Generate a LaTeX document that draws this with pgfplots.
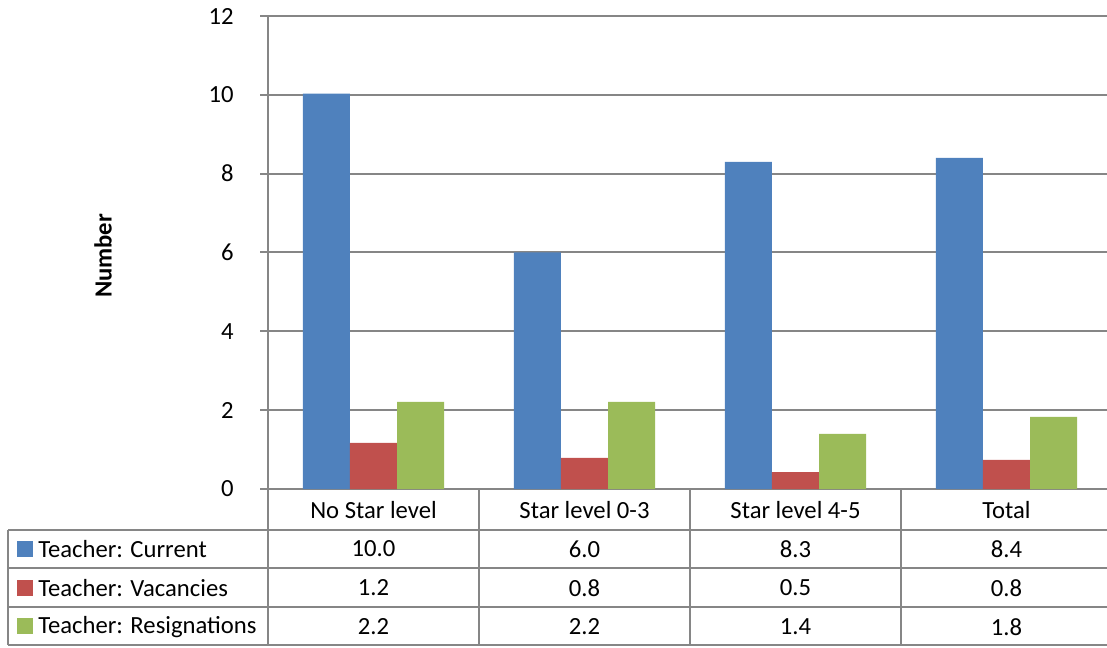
\documentclass[border=0pt]{standalone}
\usepackage{fontspec}
\setmainfont{Carlito}
\usepackage{pgfplots}
\pgfplotsset{compat=1.18}
\definecolor{cblue}{HTML}{4F81BD}
\definecolor{cred}{HTML}{C0504D}
\definecolor{cgreen}{HTML}{9BBB59}
\definecolor{tgray}{HTML}{868686}
\begin{document}
\begin{tikzpicture}[font=\fontsize{18.5}{22}\selectfont]
\begin{axis}[
  at={(201pt,118.5pt)}, anchor=south west,
  scale only axis, width=633pt, height=354.75pt,
  xmin=-0.5, xmax=3.5, ymin=0, ymax=12,
  ybar=0pt, bar width=0.223,
  xtick={0,1,2,3},
  xticklabels={No Star level, Star level 0-3, Star level 4-5, Total},
  xticklabel style={anchor=center, yshift=-9.5pt, font=\fontsize{18.5}{22}\selectfont},
  major x tick style={draw=none},
  ytick={0,2,...,12},
  yticklabel style={anchor=east, inner sep=0pt, xshift=-19.5pt, font=\fontsize{18.5}{22}\selectfont},
  /pgf/number format/assume math mode=true,
  tick align=outside,
  major tick length=6pt,
  y tick style={tgray, line width=1.5pt},
  ymajorgrids,
  grid style={tgray, line width=1.5pt},
  axis x line*=bottom, axis y line*=left,
  axis line style={tgray, line width=1.5pt, -},
  clip=false,
]
\addplot[fill=cblue, draw=none] coordinates {(0,10.03) (1,6.0) (2,8.3) (3,8.4)};
\addplot[fill=cred, draw=none] coordinates {(0,1.17) (1,0.79) (2,0.43) (3,0.74)};
\addplot[fill=cgreen, draw=none] coordinates {(0,2.21) (1,2.21) (2,1.40) (3,1.83)};
\end{axis}
\begin{scope}[shift={(0pt,485.25pt)},x=0.75pt,y=-0.75pt]
% data table grid
\begin{scope}[tgray, line width=1.5pt]
\foreach \yy in {530,568,607,645} \draw (8,\yy) -- (1112,\yy);
\draw (8,530) -- (8,645);
\foreach \xx in {268,479,690,901,1112} \draw (\xx,489) -- (\xx,645);
\end{scope}
% legend keys
\fill[cblue] (17,541) rectangle (33,557);
\fill[cred] (17,580) rectangle (33,596);
\fill[cgreen] (17,618) rectangle (33,634);
\node[anchor=west, inner sep=0pt] at (38,549) {Teacher: Current};
\node[anchor=west, inner sep=0pt] at (38,588) {Teacher: Vacancies};
\node[anchor=west, inner sep=0pt] at (38,627) {Teacher: Resignations};
% table values
\foreach \cx/\a/\b/\c in {373.5/10.0/1.2/2.2, 584.5/6.0/0.8/2.2, 795.5/8.3/0.5/1.4, 1006.5/8.4/0.8/1.8}{
  \node at (\cx,549) {\a};
  \node at (\cx,588) {\b};
  \node at (\cx,627) {\c};
}
\node[rotate=90, font=\fontsize{18.5}{22}\selectfont\bfseries] at (103,256) {Number};
\end{scope}
\pgfresetboundingbox
\path (0,0) rectangle (830.25pt,485.25pt);
\end{tikzpicture}
\end{document}
